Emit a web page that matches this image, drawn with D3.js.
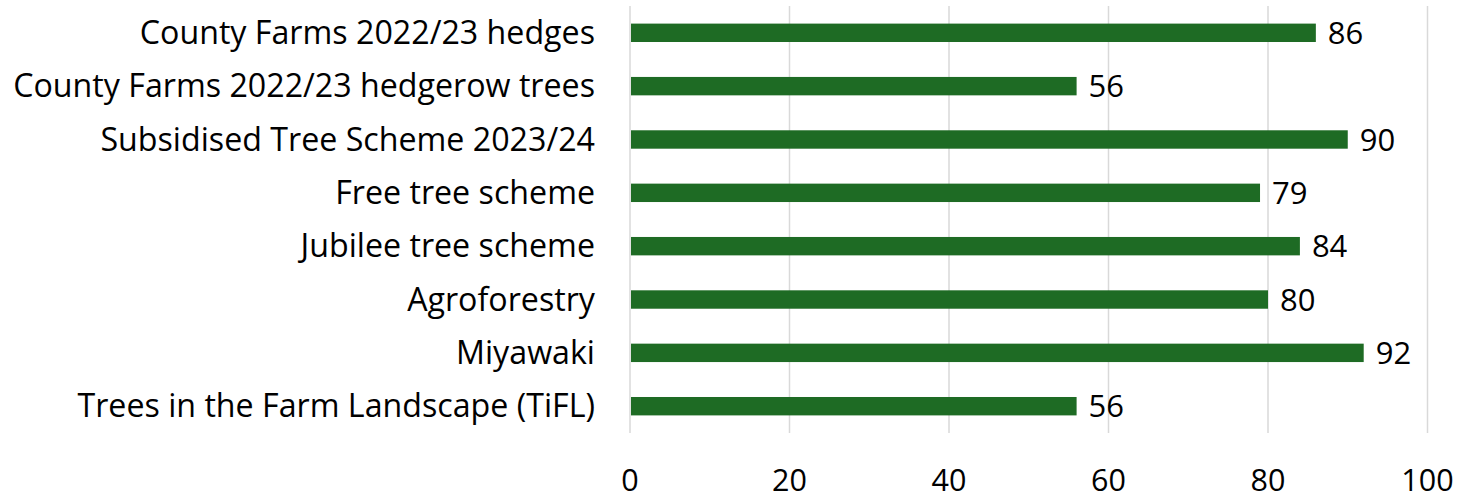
<!DOCTYPE html>
<html>
<head>
<meta charset="utf-8">
<script src="https://cdn.jsdelivr.net/npm/d3@7"></script>
<style>
  html, body { margin: 0; padding: 0; background: #fff; }
  svg { display: block; }
  text { font-family: "Open Sans", Roboto, "Liberation Sans", Arial, sans-serif; fill: #000; }
</style>
</head>
<body>
<svg id="chart" width="1460" height="499"></svg>
<script>
const categories = [
  "County Farms 2022/23 hedges",
  "County Farms 2022/23 hedgerow trees",
  "Subsidised Tree Scheme 2023/24",
  "Free tree scheme",
  "Jubilee tree scheme",
  "Agroforestry",
  "Miyawaki",
  "Trees in the Farm Landscape (TiFL)"
];
const values = [86, 56, 90, 79, 84, 80, 92, 56];
const xTicks = [0, 20, 40, 60, 80, 100];

const svg = d3.select("#chart");
const mLeft = 630, mRight = 1427.5, mTop = 6, mBottom = 433;

const x = d3.scaleLinear().domain([0, 100]).range([mLeft, mRight]);
const y = d3.scaleBand().domain(categories).range([mTop, mBottom]).paddingInner(0.655).paddingOuter(0.33);

// gridlines
svg.append("g").selectAll("line").data(xTicks).join("line")
  .attr("x1", d => x(d)).attr("x2", d => x(d))
  .attr("y1", mTop).attr("y2", mBottom)
  .attr("stroke", "#d9d9d9").attr("stroke-width", 1.5);

// bars
svg.append("g").selectAll("rect").data(values).join("rect")
  .attr("x", x(0) + 1)
  .attr("y", (d, i) => y(categories[i]))
  .attr("width", d => x(d) - x(0) - 1)
  .attr("height", y.bandwidth())
  .attr("fill", "#1e6b24");

// value labels
svg.append("g").selectAll("text").data(values).join("text")
  .attr("x", d => x(d) + 12)
  .attr("y", (d, i) => y(categories[i]) + y.bandwidth() / 2)
  .attr("dy", "0.36em")
  .attr("font-size", 31)
  .text(d => d);

// category labels
svg.append("g").selectAll("text").data(categories).join("text")
  .attr("x", 595)
  .attr("y", d => y(d) + y.bandwidth() / 2)
  .attr("dy", "0.35em")
  .attr("text-anchor", "end")
  .attr("font-size", 32.2)
  .text(d => d);

// x axis tick labels
svg.append("g").selectAll("text").data(xTicks).join("text")
  .attr("x", d => x(d))
  .attr("y", 491)
  .attr("text-anchor", "middle")
  .attr("font-size", 30.5)
  .text(d => d);
</script>
</body>
</html>
